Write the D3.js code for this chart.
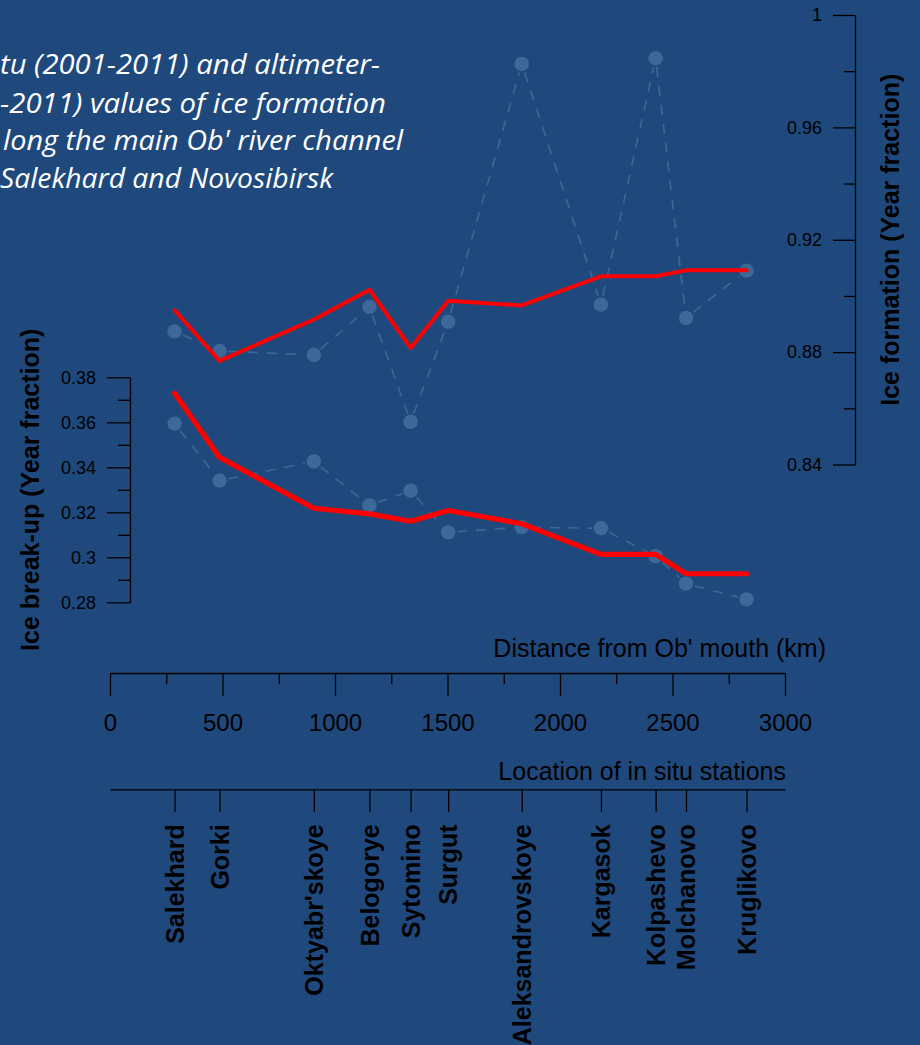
<!DOCTYPE html>
<html>
<head>
<meta charset="utf-8">
<script src="https://cdn.jsdelivr.net/npm/d3@7"></script>
<style>
  html, body { margin: 0; padding: 0; background: #1f497d; overflow: hidden; }
  svg { display: block; }
</style>
</head>
<body>
<script>
// Stations along the Ob' and their distance from the river mouth (km)
const stations = ["Salekhard", "Gorki", "Oktyabr'skoye", "Belogorye", "Sytomino", "Surgut",
                  "Aleksandrovskoye", "Kargasok", "Kolpashevo", "Molchanovo", "Kruglikovo"];
const distanceKm = [287, 487, 906, 1153, 1336, 1503, 1830, 2182, 2425, 2560, 2829];

// Ice formation date (year fraction): in situ and altimeter-derived
const formationInSitu    = [0.8874, 0.8804, 0.8790, 0.8961, 0.8552, 0.8908, 0.9826, 0.8969, 0.9846, 0.8922, 0.9090];
const formationAltimeter = [0.8949, 0.8769, 0.8916, 0.9022, 0.8815, 0.8983, 0.8966, 0.9070, 0.9070, 0.9091, 0.9091];

// Ice break-up date (year fraction): in situ and altimeter-derived
const breakupInSitu    = [0.3594, 0.3341, 0.3426, 0.3231, 0.3296, 0.3111, 0.3134, 0.3129, 0.3005, 0.2883, 0.2813];
const breakupAltimeter = [0.3729, 0.3444, 0.3218, 0.3193, 0.3160, 0.3208, 0.3149, 0.3013, 0.3013, 0.2927, 0.2927];

// Axis ticks
const distanceTicks = [0, 500, 1000, 1500, 2000, 2500, 3000];
const distanceMinorTicks = [250, 750, 1250, 1750, 2250, 2750];
const breakupTicks = [0.28, 0.30, 0.32, 0.34, 0.36, 0.38];
const breakupTickLabels = ["0.28", "0.3", "0.32", "0.34", "0.36", "0.38"];
const breakupMinorTicks = [0.29, 0.31, 0.33, 0.35, 0.37];
const formationTicks = [0.84, 0.88, 0.92, 0.96, 1];
const formationTickLabels = ["0.84", "0.88", "0.92", "0.96", "1"];
const formationMinorTicks = [0.86, 0.90, 0.94, 0.98];

// Caption lines
const titleLines = [
  "tu (2001-2011) and altimeter-",
  "-2011) values of ice formation",
  "long the main Ob' river channel",
  "Salekhard and Novosibirsk"
];

const W = 920, H = 1045;
const BG = "#1f497d";
const DOT = "#3c6999";
const AXIS_FONT = "'Liberation Sans', Arial, sans-serif";

const svg = d3.select("body").append("svg").attr("width", W).attr("height", H);
svg.append("rect").attr("width", W).attr("height", H).attr("fill", BG);

// Scales
const x = d3.scaleLinear().domain([0, 3000]).range([110, 785]);
const yForm = d3.scaleLinear().domain([0.84, 1]).range([464.5, 15]);
const yBreak = d3.scaleLinear().domain([0.28, 0.38]).range([602.3, 377.3]);

// Caption (italic, white)
const titlePos = [
  { x: 0, y: 74.3, w: 380 },
  { x: 0, y: 112.5, w: 386 },
  { x: 3, y: 150.2, w: 400 },
  { x: 0, y: 188.3, w: 333 }
];
svg.append("g").selectAll("text").data(titleLines).join("text")
  .attr("x", (d, i) => titlePos[i].x)
  .attr("y", (d, i) => titlePos[i].y)
  .attr("textLength", (d, i) => titlePos[i].w)
  .attr("lengthAdjust", "spacingAndGlyphs")
  .attr("fill", "#ffffff")
  .style("font-family", "'Open Sans', sans-serif")
  .style("font-style", "italic")
  .style("font-size", "28px")
  .text(d => d);

function styleAxis(g, size) {
  g.selectAll(".domain").attr("stroke", "#000").attr("stroke-width", 1.3);
  g.selectAll(".tick line").attr("stroke", "#000").attr("stroke-width", 1.3);
  g.selectAll(".tick text").attr("fill", "#000")
    .style("font-family", AXIS_FONT).style("font-size", size + "px");
}

// Left axis: break-up
const gBreak = svg.append("g").attr("transform", "translate(130,0)");
gBreak.call(d3.axisLeft(yBreak).tickValues(breakupTicks)
  .tickFormat((d, i) => breakupTickLabels[i]).tickSize(23).tickSizeOuter(0).tickPadding(11));
svg.append("g").attr("transform", "translate(130,0)")
  .call(d3.axisLeft(yBreak).tickValues(breakupMinorTicks).tickFormat("").tickSize(12).tickSizeOuter(0))
  .call(g => g.select(".domain").remove())
  .call(g => styleAxis(g, 18));
styleAxis(gBreak, 18);

// Right axis: formation (ticks point left)
const gForm = svg.append("g").attr("transform", "translate(855,0)");
gForm.call(d3.axisLeft(yForm).tickValues(formationTicks)
  .tickFormat((d, i) => formationTickLabels[i]).tickSize(22).tickSizeOuter(0).tickPadding(11));
svg.append("g").attr("transform", "translate(855,0)")
  .call(d3.axisLeft(yForm).tickValues(formationMinorTicks).tickFormat("").tickSize(11).tickSizeOuter(0))
  .call(g => g.select(".domain").remove())
  .call(g => styleAxis(g, 18));
styleAxis(gForm, 18);

// Distance axis
const gDist = svg.append("g").attr("transform", "translate(0,673)");
gDist.call(d3.axisBottom(x).tickValues(distanceTicks).tickFormat(d3.format("d"))
  .tickSize(23).tickSizeOuter(0).tickPadding(18));
svg.append("g").attr("transform", "translate(0,673)")
  .call(d3.axisBottom(x).tickValues(distanceMinorTicks).tickFormat("").tickSize(11).tickSizeOuter(0))
  .call(g => g.select(".domain").remove())
  .call(g => styleAxis(g, 24));
styleAxis(gDist, 24);

// Station location axis with rotated names
const gLoc = svg.append("g").attr("transform", "translate(0,789.3)");
gLoc.call(d3.axisBottom(x).tickValues(distanceKm).tickFormat((d, i) => stations[i])
  .tickSize(22.5).tickSizeOuter(0));
styleAxis(gLoc, 25);
gLoc.selectAll(".tick text")
  .attr("transform", "rotate(-90)")
  .attr("text-anchor", "end")
  .attr("x", -35)
  .attr("y", 0)
  .attr("dy", "0.35em")
  .style("font-weight", "bold");

// Axis titles
const labelStyle = s => s.attr("fill", "#000").style("font-family", AXIS_FONT);
svg.append("text").attr("x", 826).attr("y", 656.5).attr("text-anchor", "end")
  .call(labelStyle).style("font-size", "25px").text("Distance from Ob' mouth (km)");
svg.append("text").attr("x", 786).attr("y", 780).attr("text-anchor", "end")
  .call(labelStyle).style("font-size", "25px").text("Location of in situ stations");
svg.append("text")
  .attr("transform", `translate(39,${(yBreak.range()[0] + yBreak.range()[1]) / 2}) rotate(-90)`)
  .attr("text-anchor", "middle")
  .call(labelStyle).style("font-size", "25px").style("font-weight", "bold")
  .text("Ice break-up (Year fraction)");
svg.append("text")
  .attr("transform", `translate(899,${(yForm.range()[0] + yForm.range()[1]) / 2}) rotate(-90)`)
  .attr("text-anchor", "middle")
  .call(labelStyle).style("font-size", "25px").style("font-weight", "bold")
  .text("Ice formation (Year fraction)");

// In situ series: points joined by dashed segments that stop short of each point
function inSitu(values, y) {
  const pts = distanceKm.map((d, i) => [x(d), y(values[i])]);
  const g = svg.append("g");
  const gap = 9;
  const segs = d3.pairs(pts).map(([a, b]) => {
    const dx = b[0] - a[0], dy = b[1] - a[1];
    const len = Math.hypot(dx, dy);
    const ux = dx / len, uy = dy / len;
    return len > 2 * gap ? [a[0] + ux * gap, a[1] + uy * gap, b[0] - ux * gap, b[1] - uy * gap] : null;
  }).filter(Boolean);
  g.selectAll("line").data(segs).join("line")
    .attr("x1", d => d[0]).attr("y1", d => d[1])
    .attr("x2", d => d[2]).attr("y2", d => d[3])
    .attr("stroke", DOT).attr("stroke-width", 1.6)
    .attr("stroke-dasharray", "10,9");
  g.selectAll("circle").data(pts).join("circle")
    .attr("cx", d => d[0]).attr("cy", d => d[1]).attr("r", 7.2)
    .attr("fill", DOT);
}
inSitu(formationInSitu, yForm);
inSitu(breakupInSitu, yBreak);

// Altimeter-derived series: thick red lines
function altimeter(values, y, w) {
  svg.append("path")
    .datum(distanceKm.map((d, i) => [d, values[i]]))
    .attr("d", d3.line().x(d => x(d[0])).y(d => y(d[1])))
    .attr("fill", "none").attr("stroke", "#ff0000")
    .attr("stroke-width", w).attr("stroke-linejoin", "round").attr("stroke-linecap", "round");
}
altimeter(formationAltimeter, yForm, 4);
altimeter(breakupAltimeter, yBreak, 5.2);
</script>
</body>
</html>
